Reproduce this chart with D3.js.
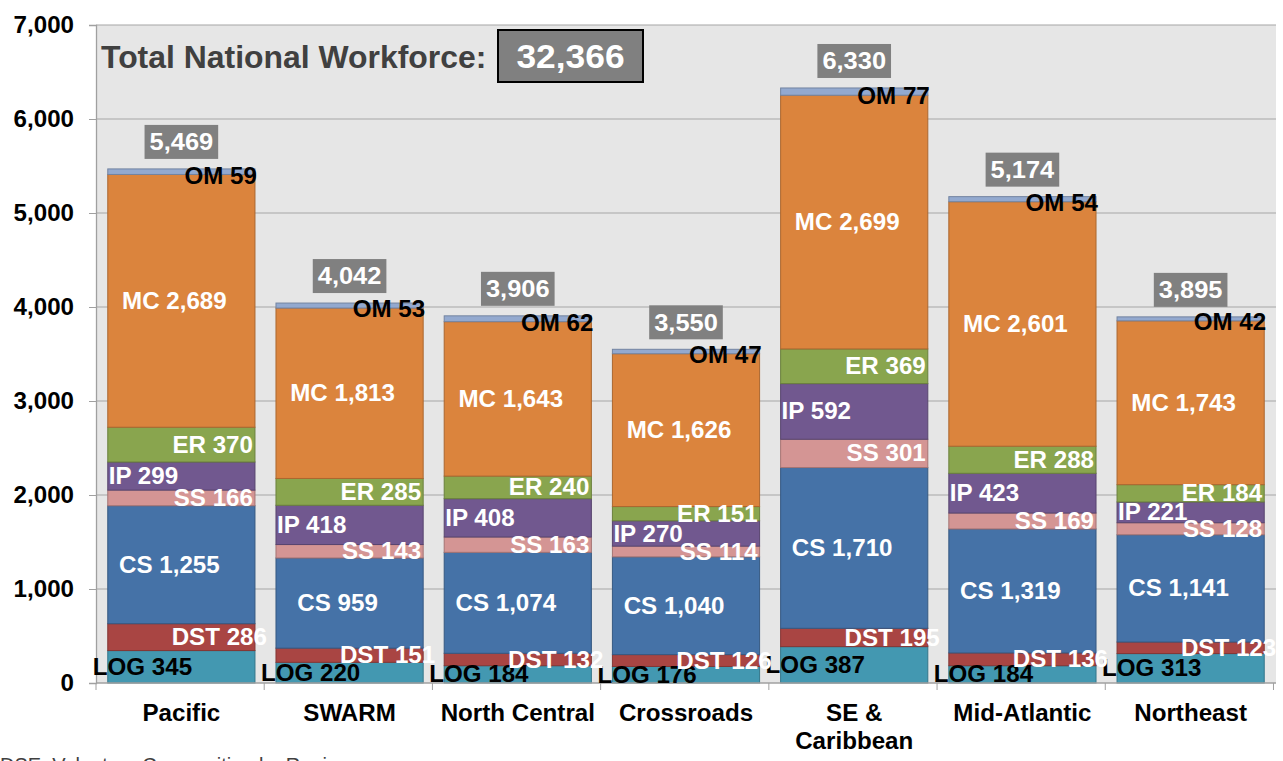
<!DOCTYPE html>
<html>
<head>
<meta charset="utf-8">
<script src="https://cdn.jsdelivr.net/npm/d3@7"></script>
<style>
  html, body { margin: 0; padding: 0; background: #fff; overflow: hidden; }
  text { font-family: "Liberation Sans", Arial, sans-serif; font-weight: bold; }
</style>
</head>
<body>
<div id="chart"></div>
<script>
// data
const regions = ['Pacific', 'SWARM', 'North Central', 'Crossroads', 'SE & Caribbean', 'Mid-Atlantic', 'Northeast'];
const seriesNames = ['LOG', 'DST', 'CS', 'SS', 'IP', 'ER', 'MC', 'OM'];
const LOG = [345, 220, 184, 176, 387, 184, 313];
const DST = [286, 151, 132, 126, 195, 136, 123];
const CS = [1255, 959, 1074, 1040, 1710, 1319, 1141];
const SS = [166, 143, 163, 114, 301, 169, 128];
const IP = [299, 418, 408, 270, 592, 423, 221];
const ER = [370, 285, 240, 151, 369, 288, 184];
const MC = [2689, 1813, 1643, 1626, 2699, 2601, 1743];
const OM = [59, 53, 62, 47, 77, 54, 42];
const yTicks = [0, 1000, 2000, 3000, 4000, 5000, 6000, 7000];
const titleText = 'Total National Workforce:';
const footText = 'DSE: Volunteer Composition by Region';

const width = 1283;
const height = 761;
const margin = { top: 25, right: 7, bottom: 78, left: 96 };
const sx = 1.05; // text in the picture is a bit wider than Arial

const colors = {
    LOG: '#4398b1', DST: '#a94543', CS: '#4572a7', SS: '#d49594',
    IP: '#71588f', ER: '#89a54e', MC: '#db843d', OM: '#93a9cf'
};

const seriesValues = { LOG, DST, CS, SS, IP, ER, MC, OM };
const rows = regions.map((r, i) => {
    const row = { region: r };
    seriesNames.forEach(k => row[k] = seriesValues[k][i]);
    return row;
});
const totals = rows.map(r => d3.sum(seriesNames, k => r[k]));
const fmt = d3.format(',');

const svg = d3.select('#chart')
    .append('svg')
    .attr('width', width)
    .attr('height', height)
    .attr('viewBox', [0, 0, width, height]);

const x = d3.scaleBand()
    .domain(regions)
    .range([margin.left, width - margin.right])
    .paddingInner(0.125)
    .paddingOuter(0.07);

const y = d3.scaleLinear()
    .domain([0, 7000])
    .range([height - margin.bottom, margin.top]);

// plot background
svg.append('rect')
    .attr('x', margin.left)
    .attr('y', margin.top)
    .attr('width', width - margin.right - margin.left)
    .attr('height', y(0) - margin.top)
    .attr('fill', '#e6e6e6');

// grid
svg.append('g')
    .selectAll('line')
    .data(yTicks.slice(1))
    .enter().append('line')
    .attr('x1', margin.left)
    .attr('x2', width - margin.right)
    .attr('y1', d => y(d))
    .attr('y2', d => y(d))
    .attr('stroke', '#a5a5a5')
    .attr('stroke-width', 1.2);

// y axis
const yAxis = svg.append('g')
    .attr('transform', `translate(${margin.left},0)`)
    .call(d3.axisLeft(y).tickValues(yTicks).tickFormat(fmt).tickSize(7).tickPadding(15));
yAxis.select('.domain').attr('stroke', '#a0a0a0').attr('stroke-width', 1.3);
yAxis.selectAll('.tick line').attr('stroke', '#a0a0a0');
yAxis.selectAll('.tick text')
    .attr('fill', '#000')
    .style('font-size', '23px')
    .attr('transform', `translate(-22,0) scale(${sx},1)`)
    .attr('x', 0);

const label = (g, px, py, txt, anchor, fill, size, scale) => g.append('text')
    .attr('transform', `translate(${px},${py}) scale(${scale || sx},1)`)
    .attr('dy', '0.35em')
    .attr('text-anchor', anchor)
    .attr('fill', fill)
    .style('font-size', size + 'px')
    .text(txt);

// stacked bars
const stacked = d3.stack().keys(seriesNames)(rows);

const barLayer = svg.append('g');
stacked.forEach(s => {
    barLayer.selectAll(`.bar-${s.key}`)
        .data(s)
        .enter().append('rect')
        .attr('class', `bar-${s.key}`)
        .attr('x', d => x(d.data.region))
        .attr('y', d => y(d[1]))
        .attr('width', x.bandwidth())
        .attr('height', d => y(d[0]) - y(d[1]))
        .attr('fill', colors[s.key])
        .attr('stroke', d3.color(colors[s.key]).darker(0.7))
        .attr('stroke-width', 1);
});

// x axis
const xBase = y(0);
svg.append('line')
    .attr('x1', margin.left).attr('x2', width - margin.right)
    .attr('y1', xBase).attr('y2', xBase)
    .attr('stroke', '#a0a0a0').attr('stroke-width', 1.5);
svg.append('g')
    .selectAll('line')
    .data(d3.range(regions.length + 1))
    .enter().append('line')
    .attr('x1', i => margin.left + i * x.step())
    .attr('x2', i => margin.left + i * x.step())
    .attr('y1', xBase)
    .attr('y2', xBase + 7)
    .attr('stroke', '#a0a0a0');

const catG = svg.append('g');
regions.forEach(r => {
    const lines = r.includes(' & ') ? [r.split(' & ')[0] + ' &', r.split(' & ')[1]] : [r];
    lines.forEach((ln, li) => {
        label(catG, x(r) + x.bandwidth() / 2, 713 + li * 28, ln, 'middle', '#000', 23);
    });
});

// segment labels
const labelLayer = svg.append('g');
const placement = {
    LOG: { pos: b => b.left - 15, anchor: 'start', fill: '#000' },
    DST: { pos: b => b.right + 12, anchor: 'end', fill: '#fff' },
    CS: { pos: b => b.mid - 12, anchor: 'middle', fill: '#fff' },
    SS: { pos: b => b.right - 2, anchor: 'end', fill: '#fff' },
    IP: { pos: b => b.left + 1, anchor: 'start', fill: '#fff' },
    ER: { pos: b => b.right - 2, anchor: 'end', fill: '#fff' },
    MC: { pos: b => b.mid - 7, anchor: 'middle', fill: '#fff' },
    OM: { pos: b => b.right + 2, anchor: 'end', fill: '#000' }
};
stacked.forEach(s => {
    const p = placement[s.key];
    s.forEach(d => {
        const left = x(d.data.region);
        const b = { left, right: left + x.bandwidth(), mid: left + x.bandwidth() / 2 };
        const py = s.key === 'OM' ? y(d[0]) + 1 : (y(d[0]) + y(d[1])) / 2;
        label(labelLayer, p.pos(b), py, `${s.key} ${fmt(d[1] - d[0])}`, p.anchor, p.fill, 23);
    });
});

// total boxes above the bars
const totalLayer = svg.append('g');
regions.forEach((r, i) => {
    const cx = x(r) + x.bandwidth() / 2;
    const bottom = y(totals[i]) - 10;
    const g = totalLayer.append('g');
    const t = label(g, cx, bottom - 17, fmt(totals[i]), 'middle', '#fff', 24, 1.06);
    const w = t.node().getComputedTextLength() * 1.06 + 10;
    g.insert('rect', 'text')
        .attr('x', cx - w / 2)
        .attr('y', bottom - 34)
        .attr('width', w)
        .attr('height', 34)
        .attr('fill', '#808080');
});

// title and national total
svg.append('text')
    .attr('transform', `translate(101,68) scale(1.03,1)`)
    .attr('fill', '#404040')
    .style('font-size', '31px')
    .text(titleText);

svg.append('rect')
    .attr('x', 498).attr('y', 30)
    .attr('width', 145).attr('height', 52)
    .attr('fill', '#808080')
    .attr('stroke', '#000')
    .attr('stroke-width', 2);
label(svg, 570.5, 56, fmt(d3.sum(totals)), 'middle', '#fff', 34, 1.04);

// footnote, cut off by the bottom edge
svg.append('text')
    .attr('x', 0)
    .attr('y', 772)
    .attr('fill', '#404040')
    .style('font-size', '20px')
    .style('font-weight', 'normal')
    .text(footText);
</script>
</body>
</html>
